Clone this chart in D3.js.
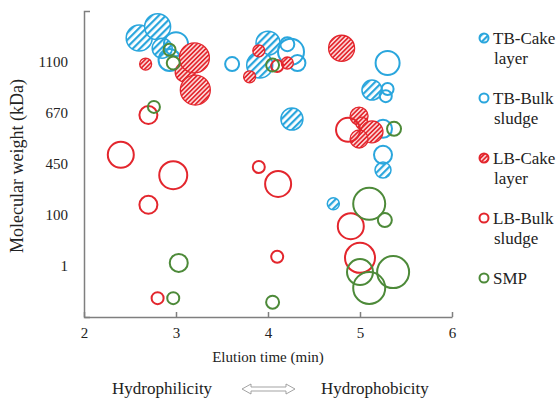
<!DOCTYPE html>
<html>
<head>
<meta charset="utf-8">
<script src="https://cdn.jsdelivr.net/npm/d3@7.9.0/dist/d3.min.js"></script>
<style>
  body { margin: 0; background: #fff; }
  svg text { font-family: "Liberation Serif", "Times New Roman", serif; fill: #222; }
</style>
</head>
<body>
<svg id="chart" width="560" height="402"></svg>
<script>
// elution time (min), molecular weight position, peak intensity (bubble size)
const tbCake = [
  [2.60, 5.47, 169], [2.80, 5.69, 169], [2.85, 5.27, 100], [4.00, 5.37, 144],
  [3.91, 4.94, 169], [4.26, 3.88, 121], [5.13, 4.45, 100], [5.25, 2.88, 64],
  [4.71, 2.22, 36]
];
const tbBulk = [
  [3.00, 5.35, 144], [2.93, 5.04, 121], [3.61, 4.96, 49], [4.25, 5.20, 169],
  [4.21, 5.35, 49], [4.32, 4.98, 64], [5.30, 4.98, 144], [5.30, 4.47, 36],
  [5.28, 4.33, 36], [5.25, 3.69, 81], [5.25, 3.18, 81]
];
const lbCake = [
  [2.67, 4.96, 36], [3.10, 4.80, 100], [3.20, 5.08, 225], [3.21, 4.45, 225],
  [3.90, 5.22, 36], [3.80, 4.71, 36], [4.21, 4.98, 36], [4.80, 5.27, 169],
  [4.99, 3.94, 81], [5.02, 3.80, 36], [5.13, 3.63, 121], [4.99, 3.49, 81]
];
const lbBulk = [
  [2.70, 3.96, 81], [2.40, 3.18, 169], [2.97, 2.78, 196], [2.70, 2.20, 81],
  [2.80, 0.37, 36], [3.90, 2.94, 36], [4.11, 2.61, 169], [4.10, 4.92, 36],
  [4.10, 1.18, 36], [4.87, 3.67, 144], [4.90, 1.78, 169], [5.00, 1.16, 225]
];
const smp = [
  [2.93, 5.24, 36], [2.97, 4.98, 42], [2.76, 4.12, 36], [3.03, 1.06, 81],
  [2.97, 0.37, 36], [4.05, 4.94, 42], [4.05, 0.29, 42], [5.37, 3.69, 49],
  [5.10, 2.22, 256], [5.27, 1.90, 49], [5.00, 0.88, 169], [5.36, 0.88, 256],
  [5.10, 0.57, 256]
];

const seriesNames = ['TB-Cake layer', 'TB-Bulk sludge', 'LB-Cake layer', 'LB-Bulk sludge', 'SMP'];
const xTicks = [2, 3, 4, 5, 6];
const yTickLabels = ['1', '100', '450', '670', '1100'];

const blue = '#2aa6dd', red = '#e3262d', green = '#4d8a39';
const series = [
  { name: seriesNames[0], data: tbCake, color: blue, fill: 'url(#hatchBlue)', sw: 1.5 },
  { name: seriesNames[1], data: tbBulk, color: blue, fill: 'none', sw: 2 },
  { name: seriesNames[2], data: lbCake, color: red, fill: 'url(#hatchRed)', sw: 1.3 },
  { name: seriesNames[3], data: lbBulk, color: red, fill: 'none', sw: 2 },
  { name: seriesNames[4], data: smp, color: green, fill: 'none', sw: 2 }
];

const svg = d3.select('#chart');
const margin = { top: 11, right: 108, bottom: 85, left: 84 };
const width = 560 - margin.left - margin.right;
const height = 402 - margin.top - margin.bottom;

let defs = svg.append('defs');
function hatch(id, color, bg, step, lw) {
  let p = defs.append('pattern')
    .attr('id', id)
    .attr('patternUnits', 'userSpaceOnUse')
    .attr('width', step).attr('height', step)
    .attr('patternTransform', 'rotate(45)');
  p.append('rect').attr('width', step).attr('height', step).attr('fill', bg);
  p.append('rect').attr('width', lw).attr('height', step).attr('fill', color);
}
hatch('hatchBlue', blue, '#fff', 5, 2.2);
hatch('hatchRed', red, '#fbd3d4', 3.2, 1.6);

const g = svg.append('g').attr('transform', `translate(${margin.left},${margin.top})`);

let x = d3.scaleLinear().domain([2, 6]).range([0, width]);
let y = d3.scaleLinear().domain([0, 6]).range([height, 0]);
let r = d3.scaleSqrt().domain([0, 256]).range([0, 16]);

// axes
let xAxis = g.append('g')
  .attr('transform', `translate(0,${height})`)
  .call(d3.axisBottom(x).tickValues(xTicks).tickFormat(d3.format('d')).tickSizeInner(-5).tickSizeOuter(0).tickPadding(10));

let yAxis = g.append('g')
  .call(d3.axisLeft(y).tickValues([1, 2, 3, 4, 5]).tickFormat((d, i) => yTickLabels[i]).tickSizeInner(0).tickSizeOuter(-6).tickPadding(16));

[xAxis, yAxis].forEach(a => {
  a.attr('font-family', null);
  a.selectAll('path, line').attr('stroke', '#7f7f7f').attr('stroke-width', 1.5);
  a.selectAll('text').style('font-size', '15px').attr('fill', '#222');
});

// bubbles
series.forEach(s => {
  g.append('g').selectAll('circle')
    .data(s.data)
    .join('circle')
    .attr('cx', d => x(d[0]))
    .attr('cy', d => y(d[1]))
    .attr('r', d => r(d[2]))
    .attr('fill', s.fill)
    .attr('stroke', s.color)
    .attr('stroke-width', s.sw);
});

// axis titles
svg.append('text')
  .attr('transform', 'translate(23,166) rotate(-90)')
  .attr('text-anchor', 'middle')
  .style('font-size', '18px')
  .text('Molecular weight (kDa)');

svg.append('text')
  .attr('x', margin.left + x(4))
  .attr('y', 362)
  .attr('text-anchor', 'middle')
  .style('font-size', '15px')
  .text('Elution time (min)');

svg.append('text')
  .attr('x', 112).attr('y', 394)
  .style('font-size', '17px')
  .text('Hydrophilicity');
svg.append('text')
  .attr('x', 321).attr('y', 394)
  .style('font-size', '17px')
  .text('Hydrophobicity');

// hollow double arrow
const ax0 = 242, ax1 = 295, ay = 389;
svg.append('path')
  .attr('d', `M${ax0},${ay} L${ax0 + 9},${ay - 5} L${ax0 + 9},${ay - 2} L${ax1 - 9},${ay - 2} L${ax1 - 9},${ay - 5} L${ax1},${ay} L${ax1 - 9},${ay + 5} L${ax1 - 9},${ay + 2} L${ax0 + 9},${ay + 2} L${ax0 + 9},${ay + 5} Z`)
  .attr('fill', '#fff')
  .attr('stroke', '#999')
  .attr('stroke-width', 0.9);

// legend
let legend = svg.append('g').attr('transform', 'translate(484,38)');
series.forEach((s, i) => {
  let item = legend.append('g').attr('transform', `translate(0,${i * 60})`);
  item.append('circle')
    .attr('r', 4.5)
    .attr('fill', s.fill)
    .attr('stroke', s.color)
    .attr('stroke-width', 2);
  let words = s.name.split(' ');
  words.forEach((w, j) => {
    item.append('text')
      .attr('x', j === 0 ? 9 : 10)
      .attr('y', j * 20 + 6)
      .style('font-size', '17px')
      .text(w);
  });
});
</script>
</body>
</html>
